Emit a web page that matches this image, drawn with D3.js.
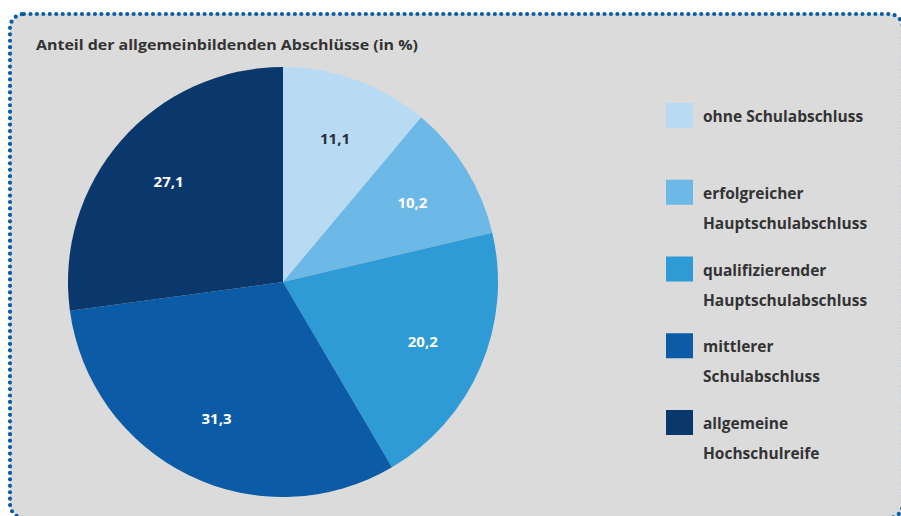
<!DOCTYPE html>
<html><head><meta charset="utf-8">
<script src="https://cdn.jsdelivr.net/npm/d3@7"></script>
<style>html,body{margin:0;padding:0;background:#fff;}svg{display:block;}</style>
</head><body>
<svg id="chart" width="901" height="516"></svg>
<script>
const title = "Anteil der allgemeinbildenden Abschlüsse (in %)";
const categories = [
  ["ohne Schulabschluss"],
  ["erfolgreicher", "Hauptschulabschluss"],
  ["qualifizierender", "Hauptschulabschluss"],
  ["mittlerer", "Schulabschluss"],
  ["allgemeine", "Hochschulreife"]
];
const values = [11.1, 10.2, 20.2, 31.3, 27.1];
const valueLabels = ["11,1", "10,2", "20,2", "31,3", "27,1"];
const colors = ["#b8dbf3", "#6cb9e7", "#2e9ad6", "#0b5ba7", "#0b386c"];
const labelColors = ["#2a2f3a", "#ffffff", "#ffffff", "#ffffff", "#ffffff"];

const svg = d3.select("#chart");
const font = "'Open Sans', 'Noto Sans', sans-serif";

// panel with dotted rounded border
svg.append("rect").attr("x", 10).attr("y", 14).attr("width", 893).attr("height", 504)
  .attr("rx", 14).attr("fill", "#dbdbdb")
  .attr("stroke", "#0a5ca8").attr("stroke-width", 4.2)
  .attr("stroke-dasharray", "0 6.45").attr("stroke-linecap", "round");

svg.append("text").attr("x", 36).attr("y", 50)
  .attr("font-family", font).attr("font-weight", 700).attr("font-size", 15)
  .attr("fill", "#333").attr("textLength", 382).attr("lengthAdjust", "spacingAndGlyphs")
  .text(title);

const cx = 283, cy = 282, r = 215;
const data = values.map((v, i) => ({v, i}));
const pie = d3.pie().value(d => d.v).sort(null);
const arc = d3.arc().innerRadius(0).outerRadius(r);
const labelArc = d3.arc().innerRadius(152).outerRadius(152);
const g = svg.append("g").attr("transform", `translate(${cx},${cy})`);
const arcs = pie(data);
g.selectAll("path").data(arcs).join("path")
  .attr("d", arc).attr("fill", d => colors[d.data.i]);
g.selectAll("text").data(arcs).join("text")
  .attr("transform", d => `translate(${labelArc.centroid(d)})`)
  .attr("text-anchor", "middle").attr("dy", "0.35em")
  .attr("font-family", font).attr("font-weight", 700).attr("font-size", 15)
  .attr("fill", d => labelColors[d.data.i])
  .text(d => valueLabels[d.data.i]);

// legend
const ly = d3.scaleLinear().domain([0, 4]).range([103, 410]);
const leg = svg.append("g");
categories.forEach((lines, i) => {
  const y = ly(i);
  leg.append("rect").attr("x", 666).attr("y", y).attr("width", 27).attr("height", 25)
    .attr("fill", colors[i]);
  lines.forEach((t, j) => {
    leg.append("text").attr("x", 703).attr("y", y + 19 + j * 30)
      .attr("font-family", font).attr("font-weight", 700).attr("font-size", 15.5)
      .attr("fill", "#333").text(t);
  });
});
</script>
</body></html>
